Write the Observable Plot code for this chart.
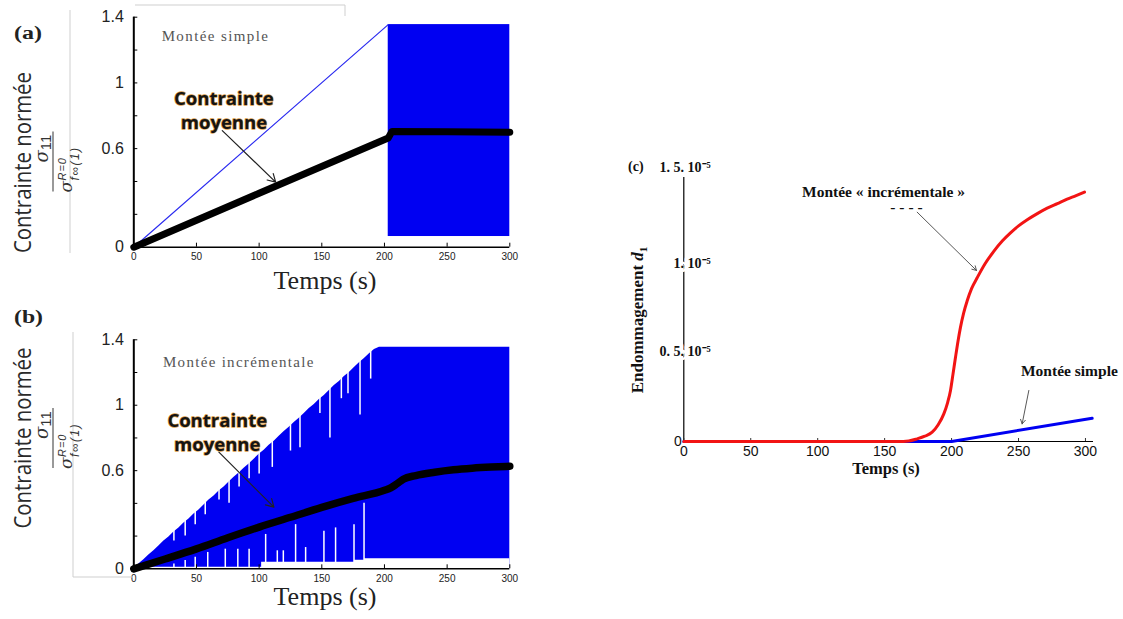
<!DOCTYPE html>
<html>
<head>
<meta charset="utf-8">
<script src="https://cdn.jsdelivr.net/npm/d3@7"></script>
<script src="https://cdn.jsdelivr.net/npm/@observablehq/plot@0.6"></script>
<style>
  html, body { margin: 0; padding: 0; background: #fff; }
  #fig { position: relative; width: 1123px; height: 619px; overflow: hidden; background: #fff; }
  #fig > svg { position: absolute; }
</style>
</head>
<body>
<div id="fig"></div>
<script>
// ================= shared ticks =================
const timeTicks = [0, 50, 100, 150, 200, 250, 300];
const stressTicks = [0, 0.2, 0.4, 0.6, 0.8, 1, 1.2, 1.4];
const stressTickLabels = [0, 0.6, 1, 1.4];

// ================= panel (a) : montée simple =================
const aRampTime = [0, 203];
const aRampStress = [0, 1.355];
const aCycleTime = [203, 300];
const aCycleStress = [0.065, 1.355];
const aMeanTime = [0, 100, 203, 206, 250, 300];
const aMeanStress = [0, 0.328, 0.665, 0.705, 0.702, 0.700];
const aNoteTime = [65.2, 71.9];
const aNoteStress = [1.283, 0.84];
const aNoteText = ["Montée simple", "Contrainte\nmoyenne"];
const aArrowTime = [70.6, 113.2];
const aArrowStress = [0.71, 0.396];

// ================= panel (b) : montée incrémentale =================
const bEnvTime = [0, 4, 8, 12, 16, 20, 24, 28, 32, 36, 40, 44, 48, 52, 56, 60, 64, 68, 72, 76, 80, 84, 88, 92, 96,
  100, 104, 108, 112, 116, 120, 124, 128, 132, 136, 140, 144, 148, 152, 156, 160, 164, 168, 172, 176, 180, 184, 188, 192, 196, 300];
const bEnvHigh = [0.0, 0.03, 0.055, 0.085, 0.11, 0.14, 0.17, 0.195, 0.225, 0.25, 0.28, 0.305, 0.335, 0.36, 0.39, 0.42, 0.445, 0.475, 0.5, 0.53, 0.56, 0.585, 0.615, 0.64, 0.67,
  0.70, 0.725, 0.755, 0.78, 0.81, 0.84, 0.865, 0.895, 0.92, 0.95, 0.98, 1.005, 1.035, 1.06, 1.09, 1.12, 1.145, 1.175, 1.2, 1.23, 1.26, 1.285, 1.315, 1.34, 1.355, 1.355];
const bBaseTime = [0, 102, 176, 184, 300];
const bBaseLow = [0.01, 0.04, 0.052, 0.062, 0.062];
const bGapTopTime = [32, 41, 49, 57, 68, 76, 84, 92, 100, 110.5, 125, 132.6, 148.5, 156.5, 165.6, 170.9, 180.5, 189];
const bGapTopFrom = [0.25, 0.31, 0.37, 0.42, 0.5, 0.56, 0.61, 0.67, 0.72, 0.8, 0.9, 0.95, 1.06, 1.12, 1.18, 1.22, 1.29, 1.36];
const bGapTopTo = [0.17, 0.2, 0.27, 0.33, 0.42, 0.4, 0.5, 0.55, 0.58, 0.62, 0.72, 0.74, 0.95, 0.8, 1.04, 1.07, 0.94, 1.16];
const bGapLowTime = [32, 41, 49, 59, 73, 83, 92, 105.2, 114.5, 119.3, 129.1, 137.1, 151.7, 161, 175.7, 183.7];
const bGapLowTo = [0.03, 0.05, 0.07, 0.1, 0.12, 0.12, 0.12, 0.21, 0.11, 0.11, 0.27, 0.13, 0.23, 0.25, 0.27, 0.4];
const bMeanTime = [0, 25, 50, 75, 100, 125, 150, 175, 200, 205, 210, 215, 225, 240, 255, 270, 285, 300];
const bMeanStress = [0, 0.06, 0.122, 0.19, 0.255, 0.315, 0.375, 0.43, 0.48, 0.495, 0.52, 0.548, 0.57, 0.59, 0.605, 0.615, 0.622, 0.627];
const bNoteTime = [83.8, 66.6];
const bNoteStress = [1.262, 0.839];
const bNoteText = ["Montée incrémentale", "Contrainte\nmoyenne"];
const bArrowTime = [67.9, 111.8];
const bArrowStress = [0.713, 0.377];

// ================= panel (c) : endommagement (x 1e-5) =================
const cDamageTicks = [0, 0.5, 1, 1.5];
const cDamageTickLabels = ["0", "0. 5. 10⁻⁵", "1. 10⁻⁵", "1. 5. 10⁻⁵"];
const cIncrTime = [0, 160, 168, 174.3, 180, 185.5, 190, 194.2, 197, 199.2, 201, 202.9, 204.8, 206.6, 209, 211.6, 215, 219.1,
  225, 231.5, 238, 244, 250, 256.5, 264, 271.4, 279, 286.3, 293, 299.3];
const cIncrDamage = [0, 0, 0.003, 0.015, 0.03, 0.053, 0.095, 0.157, 0.22, 0.29, 0.38, 0.477, 0.57, 0.647, 0.73, 0.798, 0.87, 0.93,
  1.01, 1.08, 1.14, 1.185, 1.225, 1.26, 1.295, 1.326, 1.352, 1.377, 1.397, 1.417];
const cSimpleTime = [0, 200, 305];
const cSimpleDamage = [0, 0, 0.132];
const cNoteTime = [149.2, 166.3, 288];
const cNoteDamage = [1.42, 1.335, 0.398];
const cNoteText = ["Montée « incrémentale »", "- - - -", "Montée simple"];
const cArrowFromTime = [174.3, 257.7];
const cArrowFromDamage = [1.303, 0.29];
const cArrowToTime = [218.6, 252.7];
const cArrowToDamage = [0.972, 0.10];

// ================= helpers =================
const BLUE = "#0000f2";
const RED = "#f21414";
const zip = (xs, ys, kx = "t", ky = "v") => xs.map((x, i) => ({[kx]: x, [ky]: ys[i]}));
const fig = document.getElementById("fig");
function place(el, left, top) {
  el.style.position = "absolute";
  el.style.left = left + "px";
  el.style.top = top + "px";
  fig.appendChild(el);
  return el;
}
function spacing(svg, prefix, px) {
  d3.select(svg).selectAll("text")
    .filter(function () { return this.textContent.startsWith(prefix); })
    .style("letter-spacing", px + "px");
}

function stressAxes() {
  return [
    Plot.ruleX([0], {stroke: "#000", strokeWidth: 2}),
    Plot.ruleY([0], {stroke: "#000", strokeWidth: 1.5}),
    Plot.axisY({ticks: stressTicks, tickSize: -4, tickFormat: () => "", stroke: "#000"}),
    Plot.axisY({ticks: stressTickLabels, tickSize: 0, tickPadding: 10, fontSize: 16, fill: "#222",
      fontFamily: "Liberation Sans", tickFormat: d => String(d)}),
    Plot.axisX({ticks: timeTicks, tickSize: -4, tickFormat: () => "", stroke: "#000"}),
    Plot.axisX({ticks: timeTicks, tickSize: 0, tickPadding: 6, fontSize: 10, fill: "#222",
      fontFamily: "Liberation Sans", tickFormat: d => String(d)})
  ];
}

function noteMarks(times, vals, texts, arrowT, arrowV) {
  const notes = times.map((t, i) => ({t, v: vals[i], text: texts[i]}));
  return [
    Plot.text(notes.filter(d => d.text.startsWith("Montée")), {x: "t", y: "v", text: "text",
      fontFamily: "Liberation Serif", fontSize: 15, fill: "#555"}),
    Plot.arrow([{x1: arrowT[0], y1: arrowV[0], x2: arrowT[1], y2: arrowV[1]}],
      {x1: "x1", y1: "y1", x2: "x2", y2: "y2", stroke: "#222", strokeWidth: 1.2, headLength: 11}),
    Plot.text(notes.filter(d => d.text.startsWith("Contrainte")), {x: "t", y: "v", text: "text",
      fontFamily: "Open Sans", fontWeight: "bold", fontSize: 18.5, lineHeight: 1.28,
      fill: "#141414", stroke: "#d99a45", strokeWidth: 1.3, paintOrder: "stroke"})
  ];
}

// ================= panel (a) =================
const aCycle = [{x1: aCycleTime[0], x2: aCycleTime[1], y1: aCycleStress[0], y2: aCycleStress[1]}];
const plotA = Plot.plot({
  width: 530, height: 300,
  marginLeft: 133.3, marginRight: 20.7, marginTop: 16.7, marginBottom: 53.3,
  x: {domain: [0, 300], label: null},
  y: {domain: [0, 1.4], label: null},
  style: {background: "transparent", overflow: "visible", fontFamily: "Liberation Sans"},
  marks: [
    Plot.rect(aCycle, {x1: "x1", x2: "x2", y1: "y1", y2: "y2", fill: BLUE}),
    Plot.line(zip(aRampTime, aRampStress), {x: "t", y: "v", stroke: "#2b2bf0", strokeWidth: 1.2}),
    ...stressAxes(),
    Plot.line(zip(aMeanTime, aMeanStress), {x: "t", y: "v", stroke: "#000", strokeWidth: 7, strokeLinejoin: "round", strokeLinecap: "round"}),
    ...noteMarks(aNoteTime, aNoteStress, aNoteText, aArrowTime, aArrowStress)
  ]
});
spacing(plotA, "Montée", 1.4);
place(plotA, 0, 0);

// ================= panel (b) =================
const bGapTop = bGapTopTime.map((t, i) => ({t, y1: bGapTopFrom[i], y2: bGapTopTo[i]}));
const bGapLow = bGapLowTime.map((t, i) => ({t, y1: 0, y2: bGapLowTo[i]}));
const plotB = Plot.plot({
  width: 530, height: 319,
  marginLeft: 133.3, marginRight: 20.7, marginTop: 39.3, marginBottom: 50.7,
  x: {domain: [0, 300], label: null},
  y: {domain: [0, 1.4], label: null},
  style: {background: "transparent", overflow: "visible", fontFamily: "Liberation Sans"},
  marks: [
    Plot.areaY(zip(bEnvTime, bEnvHigh), {x: "t", y: "v", fill: BLUE, curve: "linear"}),
    Plot.areaY(zip(bBaseTime, bBaseLow), {x: "t", y: "v", fill: "#fff", curve: "step-after"}),
    Plot.ruleX(bGapTop, {x: "t", y1: "y1", y2: "y2", stroke: "#fff", strokeWidth: 1.5}),
    Plot.ruleX(bGapLow, {x: "t", y1: "y1", y2: "y2", stroke: "#fff", strokeWidth: 1.5}),
    ...stressAxes(),
    Plot.line(zip(bMeanTime, bMeanStress), {x: "t", y: "v", stroke: "#000", strokeWidth: 7.5, strokeLinejoin: "round", strokeLinecap: "round", curve: "monotone-x"}),
    ...noteMarks(bNoteTime, bNoteStress, bNoteText, bArrowTime, bArrowStress)
  ]
});
spacing(plotB, "Montée", 1.3);
place(plotB, 0, 300);

// ================= panel (c) =================
const cTicks = cDamageTicks.map((v, i) => ({v, label: cDamageTickLabels[i]}));
const cNotes = cNoteTime.map((t, i) => ({t, v: cNoteDamage[i], text: cNoteText[i]}));
const cArrows = cArrowFromTime.map((t, i) => ({x1: t, y1: cArrowFromDamage[i], x2: cArrowToTime[i], y2: cArrowToDamage[i]}));
const labelStyle = {frameAnchor: "left", textAnchor: "end", fontFamily: "Liberation Serif", fontWeight: "bold",
  fontSize: 14, fill: "#111", stroke: "#fff", strokeWidth: 8, paintOrder: "stroke"};
const plotC = Plot.plot({
  width: 523, height: 340,
  marginLeft: 83.3, marginRight: 30, marginTop: 37, marginBottom: 39,
  x: {domain: [0, 306], label: null},
  y: {domain: [0, 1.5], label: null, axis: null},
  style: {background: "transparent", overflow: "visible", fontFamily: "Liberation Sans"},
  marks: [
    Plot.ruleX([0], {stroke: "#000", strokeWidth: 1.2}),
    Plot.ruleY([0], {stroke: "#000", strokeWidth: 1.2}),
    Plot.axisX({ticks: timeTicks, tickSize: -3, tickFormat: () => "", stroke: "#333"}),
    Plot.axisX({ticks: timeTicks, tickSize: 0, tickPadding: 5, fontSize: 14, fill: "#111",
      fontFamily: "Liberation Sans", tickFormat: d => String(d)}),
    Plot.text(cTicks.filter(d => d.v > 0 && d.v < 1.5), {y: "v", text: "label", dx: 27, dy: -2, ...labelStyle}),
    Plot.text(cTicks.filter(d => d.v === 1.5), {y: "v", text: "label", dx: 27, dy: -10, ...labelStyle}),
    Plot.text(cTicks.filter(d => d.v === 0), {y: "v", text: "label", frameAnchor: "left", textAnchor: "end",
      dx: -2, fontFamily: "Liberation Sans", fontSize: 14, fill: "#111"}),
    Plot.line(zip(cSimpleTime, cSimpleDamage), {x: "t", y: "v", stroke: BLUE, strokeWidth: 3}),
    Plot.line(zip(cIncrTime, cIncrDamage), {x: "t", y: "v", stroke: RED, strokeWidth: 3, curve: "monotone-x"}),
    Plot.arrow(cArrows, {x1: "x1", y1: "y1", x2: "x2", y2: "y2", stroke: "#444", strokeWidth: 0.9, headLength: 8}),
    Plot.text(cNotes, {x: "t", y: "v", text: "text", fontFamily: "Liberation Serif", fontWeight: "bold",
      fontSize: 15.5, fill: "#111"})
  ]
});
place(plotC, 600, 140);

// ================= overlay: titles, panel letters, axis titles =================
const ov = d3.select(fig).append("svg")
  .attr("width", 1123).attr("height", 619)
  .style("left", "0px").style("top", "0px").style("pointer-events", "none");

// light grey frame lines of the original pasted panels
const frame = ov.append("g").attr("fill", "none").attr("stroke", "#cfcfcf").attr("stroke-width", 1);
frame.append("path").attr("d", "M70,10V253");
frame.append("path").attr("d", "M135,5H345V16");
frame.append("path").attr("d", "M73,332V577H133");

function serif(sel) { return sel.attr("font-family", "Liberation Serif"); }

// panel letters
[["(a)", 14, 39, 18, 28], ["(b)", 14, 323, 18, 29]].forEach(([s, x, y, fs, len]) => {
  serif(ov.append("text")).attr("x", x).attr("y", y).attr("font-size", fs).attr("font-weight", "bold")
    .attr("fill", "#222").attr("textLength", len).attr("lengthAdjust", "spacingAndGlyphs").text(s);
});
serif(ov.append("text")).attr("x", 628).attr("y", 171).attr("font-size", 14).attr("font-weight", "bold")
  .attr("fill", "#111").text("(c)");

// y titles (a), (b)
[[31, 162.5], [31, 438]].forEach(([x, y]) => {
  ov.append("text").attr("transform", `translate(${x},${y}) rotate(-90)`)
    .attr("text-anchor", "middle").attr("font-family", "Open Sans").attr("font-size", 24)
    .attr("fill", "#2a2a2a").attr("textLength", 181).attr("lengthAdjust", "spacingAndGlyphs")
    .text("Contrainte normée");
});

// normalisation fraction
function fraction(cx, cy) {
  const g = ov.append("g").attr("transform", `translate(${cx},${cy}) rotate(-90)`).attr("fill", "#333");
  g.append("line").attr("x1", -30).attr("x2", 30).attr("y1", 0).attr("y2", 0).attr("stroke", "#555").attr("stroke-width", 1.2);
  const num = g.append("text").attr("x", 13).attr("y", -5).attr("text-anchor", "middle");
  num.append("tspan").attr("font-family", "DejaVu Serif").attr("font-style", "italic").attr("font-size", 18).text("σ");
  num.append("tspan").attr("font-family", "Liberation Sans").attr("font-size", 15).attr("dy", 3).text("11");
  g.append("text").attr("x", -31).attr("y", 19).attr("font-family", "DejaVu Serif").attr("font-style", "italic")
    .attr("font-size", 17).text("σ");
  g.append("text").attr("x", -19).attr("y", 13).attr("font-family", "Liberation Sans").attr("font-style", "italic")
    .attr("font-size", 11).attr("letter-spacing", 1).text("R=0");
  g.append("text").attr("x", -19).attr("y", 26).attr("font-family", "Liberation Sans").attr("font-style", "italic")
    .attr("font-size", 12).attr("letter-spacing", 1.5).text("f∞(1)");
}
fraction(53, 161.5);
fraction(53, 438);

// x titles (a), (b)
[289, 605].forEach(y => {
  serif(ov.append("text")).attr("x", 325).attr("y", y).attr("text-anchor", "middle").attr("font-size", 25)
    .attr("fill", "#222").attr("textLength", 103).attr("lengthAdjust", "spacingAndGlyphs").text("Temps (s)");
});

// panel (c) axis titles
serif(ov.append("text")).attr("x", 886).attr("y", 474).attr("text-anchor", "middle").attr("font-size", 16.5)
  .attr("font-weight", "bold").attr("fill", "#111").text("Temps (s)");
const yc = serif(ov.append("text")).attr("transform", "translate(643,320) rotate(-90)").attr("text-anchor", "middle")
  .attr("font-size", 17).attr("font-weight", "bold").attr("fill", "#111");
yc.append("tspan").text("Endommagement ");
yc.append("tspan").attr("font-style", "italic").text("d");
yc.append("tspan").attr("font-size", 11).attr("dy", 4).text("1");
</script>
</body>
</html>
